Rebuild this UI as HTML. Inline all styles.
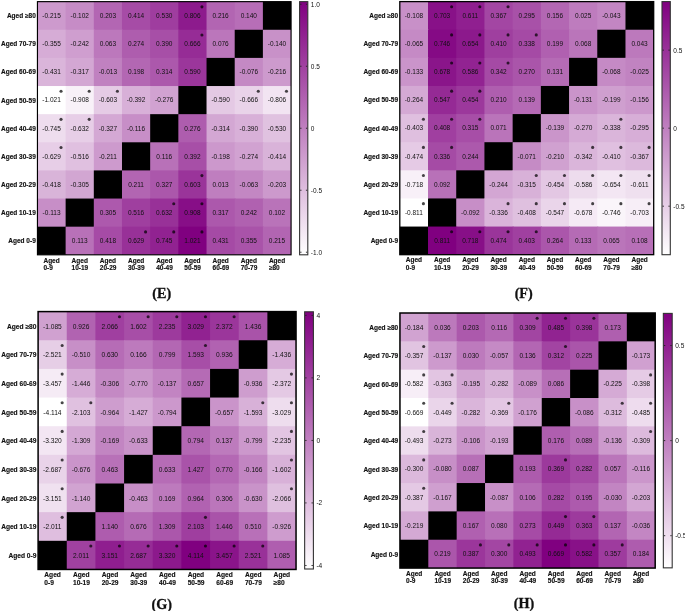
<!DOCTYPE html>
<html><head><meta charset="utf-8"><style>
html,body{margin:0;padding:0;background:#fff;}
body{width:685px;height:611px;overflow:hidden;}
svg{display:block;will-change:transform;}
text{font-family:"Liberation Sans", sans-serif;fill:#111;}
.v{text-anchor:middle;}
.rl{font-weight:bold;text-anchor:end;stroke:#111;stroke-width:0.15px;}
.cl{font-weight:bold;stroke:#111;stroke-width:0.15px;}
.tk{}
.cap{font-family:"Liberation Serif", serif;font-size:14.2px;font-weight:bold;text-anchor:middle;stroke:#111;stroke-width:0.3px;}
</style></head><body>
<svg width="685" height="611" viewBox="0 0 685 611">
<defs><linearGradient id="gE" x1="0" y1="1" x2="0" y2="0"><stop offset="0" stop-color="rgb(255,255,255)"/><stop offset="1" stop-color="rgb(128,0,128)"/></linearGradient><linearGradient id="gF" x1="0" y1="1" x2="0" y2="0"><stop offset="0" stop-color="rgb(255,255,255)"/><stop offset="1" stop-color="rgb(128,0,128)"/></linearGradient><linearGradient id="gG" x1="0" y1="1" x2="0" y2="0"><stop offset="0" stop-color="rgb(255,255,255)"/><stop offset="1" stop-color="rgb(128,0,128)"/></linearGradient><linearGradient id="gH" x1="0" y1="1" x2="0" y2="0"><stop offset="0" stop-color="rgb(255,255,255)"/><stop offset="1" stop-color="rgb(128,0,128)"/></linearGradient></defs>
<g style="font-size:6.500px">
<rect x="37.45" y="1.64" width="29.18" height="29.13" fill="rgb(205,154,205)"/>
<rect x="65.63" y="1.64" width="29.18" height="29.13" fill="rgb(198,140,198)"/>
<rect x="93.81" y="1.64" width="29.18" height="29.13" fill="rgb(179,102,179)"/>
<rect x="121.99" y="1.64" width="29.18" height="29.13" fill="rgb(166,76,166)"/>
<rect x="150.17" y="1.64" width="29.18" height="29.13" fill="rgb(159,61,159)"/>
<rect x="178.35" y="1.64" width="29.18" height="29.13" fill="rgb(141,27,141)"/>
<rect x="206.53" y="1.64" width="29.18" height="29.13" fill="rgb(178,101,178)"/>
<rect x="234.71" y="1.64" width="29.18" height="29.13" fill="rgb(183,110,183)"/>
<rect x="262.89" y="1.64" width="28.18" height="29.13" fill="#000"/>
<rect x="37.45" y="29.77" width="29.18" height="29.13" fill="rgb(214,172,214)"/>
<rect x="65.63" y="29.77" width="29.18" height="29.13" fill="rgb(207,158,207)"/>
<rect x="93.81" y="29.77" width="29.18" height="29.13" fill="rgb(188,120,188)"/>
<rect x="121.99" y="29.77" width="29.18" height="29.13" fill="rgb(174,93,174)"/>
<rect x="150.17" y="29.77" width="29.18" height="29.13" fill="rgb(167,79,167)"/>
<rect x="178.35" y="29.77" width="29.18" height="29.13" fill="rgb(150,44,150)"/>
<rect x="206.53" y="29.77" width="29.18" height="29.13" fill="rgb(187,118,187)"/>
<rect x="234.71" y="29.77" width="29.18" height="29.13" fill="#000"/>
<rect x="262.89" y="29.77" width="28.18" height="29.13" fill="rgb(200,145,200)"/>
<rect x="37.45" y="57.90" width="29.18" height="29.13" fill="rgb(218,181,218)"/>
<rect x="65.63" y="57.90" width="29.18" height="29.13" fill="rgb(211,167,211)"/>
<rect x="93.81" y="57.90" width="29.18" height="29.13" fill="rgb(192,129,192)"/>
<rect x="121.99" y="57.90" width="29.18" height="29.13" fill="rgb(179,103,179)"/>
<rect x="150.17" y="57.90" width="29.18" height="29.13" fill="rgb(172,88,172)"/>
<rect x="178.35" y="57.90" width="29.18" height="29.13" fill="rgb(155,54,155)"/>
<rect x="206.53" y="57.90" width="29.18" height="29.13" fill="#000"/>
<rect x="234.71" y="57.90" width="29.18" height="29.13" fill="rgb(196,137,196)"/>
<rect x="262.89" y="57.90" width="28.18" height="29.13" fill="rgb(205,154,205)"/>
<rect x="37.45" y="86.03" width="29.18" height="29.13" fill="rgb(255,255,255)"/>
<rect x="65.63" y="86.03" width="29.18" height="29.13" fill="rgb(248,241,248)"/>
<rect x="93.81" y="86.03" width="29.18" height="29.13" fill="rgb(229,203,229)"/>
<rect x="121.99" y="86.03" width="29.18" height="29.13" fill="rgb(216,176,216)"/>
<rect x="150.17" y="86.03" width="29.18" height="29.13" fill="rgb(209,162,209)"/>
<rect x="178.35" y="86.03" width="29.18" height="29.13" fill="#000"/>
<rect x="206.53" y="86.03" width="29.18" height="29.13" fill="rgb(228,201,228)"/>
<rect x="234.71" y="86.03" width="29.18" height="29.13" fill="rgb(233,211,233)"/>
<rect x="262.89" y="86.03" width="28.18" height="29.13" fill="rgb(242,228,242)"/>
<rect x="37.45" y="114.16" width="29.18" height="29.13" fill="rgb(238,221,238)"/>
<rect x="65.63" y="114.16" width="29.18" height="29.13" fill="rgb(231,206,231)"/>
<rect x="93.81" y="114.16" width="29.18" height="29.13" fill="rgb(212,168,212)"/>
<rect x="121.99" y="114.16" width="29.18" height="29.13" fill="rgb(199,142,199)"/>
<rect x="150.17" y="114.16" width="29.18" height="29.13" fill="#000"/>
<rect x="178.35" y="114.16" width="29.18" height="29.13" fill="rgb(174,93,174)"/>
<rect x="206.53" y="114.16" width="29.18" height="29.13" fill="rgb(211,167,211)"/>
<rect x="234.71" y="114.16" width="29.18" height="29.13" fill="rgb(216,176,216)"/>
<rect x="262.89" y="114.16" width="28.18" height="29.13" fill="rgb(224,194,224)"/>
<rect x="37.45" y="142.29" width="29.18" height="29.13" fill="rgb(231,206,231)"/>
<rect x="65.63" y="142.29" width="29.18" height="29.13" fill="rgb(224,192,224)"/>
<rect x="93.81" y="142.29" width="29.18" height="29.13" fill="rgb(205,154,205)"/>
<rect x="121.99" y="142.29" width="29.18" height="29.13" fill="#000"/>
<rect x="150.17" y="142.29" width="29.18" height="29.13" fill="rgb(184,113,184)"/>
<rect x="178.35" y="142.29" width="29.18" height="29.13" fill="rgb(167,79,167)"/>
<rect x="206.53" y="142.29" width="29.18" height="29.13" fill="rgb(204,152,204)"/>
<rect x="234.71" y="142.29" width="29.18" height="29.13" fill="rgb(209,162,209)"/>
<rect x="262.89" y="142.29" width="28.18" height="29.13" fill="rgb(217,179,217)"/>
<rect x="37.45" y="170.42" width="29.18" height="29.13" fill="rgb(217,180,217)"/>
<rect x="65.63" y="170.42" width="29.18" height="29.13" fill="rgb(210,166,210)"/>
<rect x="93.81" y="170.42" width="29.18" height="29.13" fill="#000"/>
<rect x="121.99" y="170.42" width="29.18" height="29.13" fill="rgb(178,101,178)"/>
<rect x="150.17" y="170.42" width="29.18" height="29.13" fill="rgb(171,87,171)"/>
<rect x="178.35" y="170.42" width="29.18" height="29.13" fill="rgb(154,52,154)"/>
<rect x="206.53" y="170.42" width="29.18" height="29.13" fill="rgb(191,126,191)"/>
<rect x="234.71" y="170.42" width="29.18" height="29.13" fill="rgb(195,135,195)"/>
<rect x="262.89" y="170.42" width="28.18" height="29.13" fill="rgb(204,153,204)"/>
<rect x="37.45" y="198.55" width="29.18" height="29.13" fill="rgb(199,142,199)"/>
<rect x="65.63" y="198.55" width="29.18" height="29.13" fill="#000"/>
<rect x="93.81" y="198.55" width="29.18" height="29.13" fill="rgb(173,89,173)"/>
<rect x="121.99" y="198.55" width="29.18" height="29.13" fill="rgb(159,63,159)"/>
<rect x="150.17" y="198.55" width="29.18" height="29.13" fill="rgb(152,49,152)"/>
<rect x="178.35" y="198.55" width="29.18" height="29.13" fill="rgb(135,14,135)"/>
<rect x="206.53" y="198.55" width="29.18" height="29.13" fill="rgb(172,88,172)"/>
<rect x="234.71" y="198.55" width="29.18" height="29.13" fill="rgb(176,97,176)"/>
<rect x="262.89" y="198.55" width="28.18" height="29.13" fill="rgb(185,115,185)"/>
<rect x="37.45" y="226.68" width="29.18" height="28.13" fill="#000"/>
<rect x="65.63" y="226.68" width="29.18" height="28.13" fill="rgb(184,113,184)"/>
<rect x="93.81" y="226.68" width="29.18" height="28.13" fill="rgb(166,75,166)"/>
<rect x="121.99" y="226.68" width="29.18" height="28.13" fill="rgb(152,49,152)"/>
<rect x="150.17" y="226.68" width="29.18" height="28.13" fill="rgb(145,34,145)"/>
<rect x="178.35" y="226.68" width="29.18" height="28.13" fill="rgb(128,0,128)"/>
<rect x="206.53" y="226.68" width="29.18" height="28.13" fill="rgb(165,74,165)"/>
<rect x="234.71" y="226.68" width="29.18" height="28.13" fill="rgb(169,83,169)"/>
<rect x="262.89" y="226.68" width="28.18" height="28.13" fill="rgb(178,101,178)"/>
<rect x="37.45" y="1.64" width="253.62" height="253.17" fill="none" stroke="#000" stroke-width="1.15"/>
<text x="51.54" y="18.00" class="v">-0.215</text>
<text x="79.72" y="18.00" class="v">-0.102</text>
<text x="107.90" y="18.00" class="v">0.203</text>
<text x="136.08" y="18.00" class="v">0.414</text>
<text x="164.26" y="18.00" class="v">0.530</text>
<text x="192.44" y="18.00" class="v">0.806</text>
<circle cx="201.93" cy="6.84" r="1.55" fill="#000" fill-opacity="0.72"/>
<text x="220.62" y="18.00" class="v">0.216</text>
<text x="248.80" y="18.00" class="v">0.140</text>
<text x="51.54" y="46.13" class="v">-0.355</text>
<text x="79.72" y="46.13" class="v">-0.242</text>
<text x="107.90" y="46.13" class="v">0.063</text>
<text x="136.08" y="46.13" class="v">0.274</text>
<text x="164.26" y="46.13" class="v">0.390</text>
<text x="192.44" y="46.13" class="v">0.666</text>
<circle cx="201.93" cy="34.97" r="1.55" fill="#000" fill-opacity="0.72"/>
<text x="220.62" y="46.13" class="v">0.076</text>
<text x="276.98" y="46.13" class="v">-0.140</text>
<text x="51.54" y="74.27" class="v">-0.431</text>
<text x="79.72" y="74.27" class="v">-0.317</text>
<text x="107.90" y="74.27" class="v">-0.013</text>
<text x="136.08" y="74.27" class="v">0.198</text>
<text x="164.26" y="74.27" class="v">0.314</text>
<text x="192.44" y="74.27" class="v">0.590</text>
<text x="248.80" y="74.27" class="v">-0.076</text>
<text x="276.98" y="74.27" class="v">-0.216</text>
<text x="51.54" y="102.39" class="v">-1.021</text>
<circle cx="61.03" cy="91.23" r="1.55" fill="#000" fill-opacity="0.72"/>
<text x="79.72" y="102.39" class="v">-0.908</text>
<circle cx="89.21" cy="91.23" r="1.55" fill="#000" fill-opacity="0.72"/>
<text x="107.90" y="102.39" class="v">-0.603</text>
<circle cx="117.39" cy="91.23" r="1.55" fill="#000" fill-opacity="0.72"/>
<text x="136.08" y="102.39" class="v">-0.392</text>
<text x="164.26" y="102.39" class="v">-0.276</text>
<text x="220.62" y="102.39" class="v">-0.590</text>
<text x="248.80" y="102.39" class="v">-0.666</text>
<circle cx="258.29" cy="91.23" r="1.55" fill="#000" fill-opacity="0.72"/>
<text x="276.98" y="102.39" class="v">-0.806</text>
<circle cx="286.47" cy="91.23" r="1.55" fill="#000" fill-opacity="0.72"/>
<text x="51.54" y="130.53" class="v">-0.745</text>
<circle cx="61.03" cy="119.36" r="1.55" fill="#000" fill-opacity="0.72"/>
<text x="79.72" y="130.53" class="v">-0.632</text>
<circle cx="89.21" cy="119.36" r="1.55" fill="#000" fill-opacity="0.72"/>
<text x="107.90" y="130.53" class="v">-0.327</text>
<text x="136.08" y="130.53" class="v">-0.116</text>
<text x="192.44" y="130.53" class="v">0.276</text>
<text x="220.62" y="130.53" class="v">-0.314</text>
<text x="248.80" y="130.53" class="v">-0.390</text>
<text x="276.98" y="130.53" class="v">-0.530</text>
<text x="51.54" y="158.66" class="v">-0.629</text>
<circle cx="61.03" cy="147.49" r="1.55" fill="#000" fill-opacity="0.72"/>
<text x="79.72" y="158.66" class="v">-0.516</text>
<text x="107.90" y="158.66" class="v">-0.211</text>
<text x="164.26" y="158.66" class="v">0.116</text>
<text x="192.44" y="158.66" class="v">0.392</text>
<text x="220.62" y="158.66" class="v">-0.198</text>
<text x="248.80" y="158.66" class="v">-0.274</text>
<text x="276.98" y="158.66" class="v">-0.414</text>
<text x="51.54" y="186.78" class="v">-0.418</text>
<text x="79.72" y="186.78" class="v">-0.305</text>
<text x="136.08" y="186.78" class="v">0.211</text>
<text x="164.26" y="186.78" class="v">0.327</text>
<text x="192.44" y="186.78" class="v">0.603</text>
<circle cx="201.93" cy="175.62" r="1.55" fill="#000" fill-opacity="0.72"/>
<text x="220.62" y="186.78" class="v">0.013</text>
<text x="248.80" y="186.78" class="v">-0.063</text>
<text x="276.98" y="186.78" class="v">-0.203</text>
<text x="51.54" y="214.91" class="v">-0.113</text>
<text x="107.90" y="214.91" class="v">0.305</text>
<text x="136.08" y="214.91" class="v">0.516</text>
<text x="164.26" y="214.91" class="v">0.632</text>
<circle cx="173.75" cy="203.75" r="1.55" fill="#000" fill-opacity="0.72"/>
<text x="192.44" y="214.91" class="v">0.908</text>
<circle cx="201.93" cy="203.75" r="1.55" fill="#000" fill-opacity="0.72"/>
<text x="220.62" y="214.91" class="v">0.317</text>
<text x="248.80" y="214.91" class="v">0.242</text>
<text x="276.98" y="214.91" class="v">0.102</text>
<text x="79.72" y="243.04" class="v">0.113</text>
<text x="107.90" y="243.04" class="v">0.418</text>
<text x="136.08" y="243.04" class="v">0.629</text>
<circle cx="145.57" cy="231.88" r="1.55" fill="#000" fill-opacity="0.72"/>
<text x="164.26" y="243.04" class="v">0.745</text>
<circle cx="173.75" cy="231.88" r="1.55" fill="#000" fill-opacity="0.72"/>
<text x="192.44" y="243.04" class="v">1.021</text>
<circle cx="201.93" cy="231.88" r="1.55" fill="#000" fill-opacity="0.72"/>
<text x="220.62" y="243.04" class="v">0.431</text>
<text x="248.80" y="243.04" class="v">0.355</text>
<text x="276.98" y="243.04" class="v">0.215</text>
<text x="35.75" y="18.11" class="rl">Aged ≥80</text>
<text x="35.75" y="46.23" class="rl">Aged 70-79</text>
<text x="35.75" y="74.37" class="rl">Aged 60-69</text>
<text x="35.75" y="102.50" class="rl">Aged 50-59</text>
<text x="35.75" y="130.62" class="rl">Aged 40-49</text>
<text x="35.75" y="158.75" class="rl">Aged 30-39</text>
<text x="35.75" y="186.88" class="rl">Aged 20-29</text>
<text x="35.75" y="215.01" class="rl">Aged 10-19</text>
<text x="35.75" y="243.14" class="rl">Aged 0-9</text>
<text x="43.44" y="262.51" class="cl">Aged</text>
<text x="43.44" y="270.11" class="cl">0-9</text>
<text x="71.62" y="262.51" class="cl">Aged</text>
<text x="71.62" y="270.11" class="cl">10-19</text>
<text x="99.80" y="262.51" class="cl">Aged</text>
<text x="99.80" y="270.11" class="cl">20-29</text>
<text x="127.98" y="262.51" class="cl">Aged</text>
<text x="127.98" y="270.11" class="cl">30-39</text>
<text x="156.16" y="262.51" class="cl">Aged</text>
<text x="156.16" y="270.11" class="cl">40-49</text>
<text x="184.34" y="262.51" class="cl">Aged</text>
<text x="184.34" y="270.11" class="cl">50-59</text>
<text x="212.52" y="262.51" class="cl">Aged</text>
<text x="212.52" y="270.11" class="cl">60-69</text>
<text x="240.70" y="262.51" class="cl">Aged</text>
<text x="240.70" y="270.11" class="cl">70-79</text>
<text x="268.88" y="262.51" class="cl">Aged</text>
<text x="268.88" y="270.11" class="cl">≥80</text>
<rect x="299.60" y="1.64" width="8.20" height="253.16" fill="url(#gE)" stroke="#333" stroke-width="1.1"/>
<rect x="300.10" y="3.79" width="1.4" height="0.9" fill="#222"/>
<rect x="305.90" y="3.79" width="1.4" height="0.9" fill="#222"/>
<text x="310.80" y="6.54" class="tk">1.0</text>
<rect x="300.10" y="65.78" width="1.4" height="0.9" fill="#222"/>
<rect x="305.90" y="65.78" width="1.4" height="0.9" fill="#222"/>
<text x="310.80" y="68.53" class="tk">0.5</text>
<rect x="300.10" y="127.77" width="1.4" height="0.9" fill="#222"/>
<rect x="305.90" y="127.77" width="1.4" height="0.9" fill="#222"/>
<text x="310.80" y="130.52" class="tk">0</text>
<rect x="300.10" y="189.76" width="1.4" height="0.9" fill="#222"/>
<rect x="305.90" y="189.76" width="1.4" height="0.9" fill="#222"/>
<text x="310.80" y="192.51" class="tk">-0.5</text>
<rect x="300.10" y="251.75" width="1.4" height="0.9" fill="#222"/>
<rect x="305.90" y="251.75" width="1.4" height="0.9" fill="#222"/>
<text x="310.80" y="254.50" class="tk">-1.0</text>
</g>
<text x="161.70" y="297.90" class="cap">(E)</text>
<g style="font-size:6.507px">
<rect x="399.80" y="1.60" width="29.21" height="29.12" fill="rgb(200,144,200)"/>
<rect x="428.01" y="1.60" width="29.21" height="29.12" fill="rgb(136,17,136)"/>
<rect x="456.22" y="1.60" width="29.21" height="29.12" fill="rgb(144,31,144)"/>
<rect x="484.43" y="1.60" width="29.21" height="29.12" fill="rgb(163,70,163)"/>
<rect x="512.64" y="1.60" width="29.21" height="29.12" fill="rgb(168,81,168)"/>
<rect x="540.85" y="1.60" width="29.21" height="29.12" fill="rgb(179,103,179)"/>
<rect x="569.06" y="1.60" width="29.21" height="29.12" fill="rgb(190,124,190)"/>
<rect x="597.27" y="1.60" width="29.21" height="29.12" fill="rgb(195,134,195)"/>
<rect x="625.48" y="1.60" width="28.21" height="29.12" fill="#000"/>
<rect x="399.80" y="29.72" width="29.21" height="29.12" fill="rgb(197,138,197)"/>
<rect x="428.01" y="29.72" width="29.21" height="29.12" fill="rgb(133,10,133)"/>
<rect x="456.22" y="29.72" width="29.21" height="29.12" fill="rgb(140,25,140)"/>
<rect x="484.43" y="29.72" width="29.21" height="29.12" fill="rgb(159,63,159)"/>
<rect x="512.64" y="29.72" width="29.21" height="29.12" fill="rgb(165,74,165)"/>
<rect x="540.85" y="29.72" width="29.21" height="29.12" fill="rgb(176,96,176)"/>
<rect x="569.06" y="29.72" width="29.21" height="29.12" fill="rgb(186,117,186)"/>
<rect x="597.27" y="29.72" width="29.21" height="29.12" fill="#000"/>
<rect x="625.48" y="29.72" width="28.21" height="29.12" fill="rgb(188,121,188)"/>
<rect x="399.80" y="57.84" width="29.21" height="29.12" fill="rgb(202,148,202)"/>
<rect x="428.01" y="57.84" width="29.21" height="29.12" fill="rgb(138,21,138)"/>
<rect x="456.22" y="57.84" width="29.21" height="29.12" fill="rgb(146,35,146)"/>
<rect x="484.43" y="57.84" width="29.21" height="29.12" fill="rgb(165,74,165)"/>
<rect x="512.64" y="57.84" width="29.21" height="29.12" fill="rgb(170,85,170)"/>
<rect x="540.85" y="57.84" width="29.21" height="29.12" fill="rgb(181,107,181)"/>
<rect x="569.06" y="57.84" width="29.21" height="29.12" fill="#000"/>
<rect x="597.27" y="57.84" width="29.21" height="29.12" fill="rgb(197,138,197)"/>
<rect x="625.48" y="57.84" width="28.21" height="29.12" fill="rgb(193,131,193)"/>
<rect x="399.80" y="85.96" width="29.21" height="29.12" fill="rgb(212,169,212)"/>
<rect x="428.01" y="85.96" width="29.21" height="29.12" fill="rgb(149,42,149)"/>
<rect x="456.22" y="85.96" width="29.21" height="29.12" fill="rgb(156,56,156)"/>
<rect x="484.43" y="85.96" width="29.21" height="29.12" fill="rgb(175,94,175)"/>
<rect x="512.64" y="85.96" width="29.21" height="29.12" fill="rgb(181,106,181)"/>
<rect x="540.85" y="85.96" width="29.21" height="29.12" fill="#000"/>
<rect x="569.06" y="85.96" width="29.21" height="29.12" fill="rgb(202,148,202)"/>
<rect x="597.27" y="85.96" width="29.21" height="29.12" fill="rgb(207,159,207)"/>
<rect x="625.48" y="85.96" width="28.21" height="29.12" fill="rgb(204,152,204)"/>
<rect x="399.80" y="114.08" width="29.21" height="29.12" fill="rgb(223,191,223)"/>
<rect x="428.01" y="114.08" width="29.21" height="29.12" fill="rgb(160,63,160)"/>
<rect x="456.22" y="114.08" width="29.21" height="29.12" fill="rgb(167,78,167)"/>
<rect x="484.43" y="114.08" width="29.21" height="29.12" fill="rgb(186,116,186)"/>
<rect x="512.64" y="114.08" width="29.21" height="29.12" fill="#000"/>
<rect x="540.85" y="114.08" width="29.21" height="29.12" fill="rgb(202,149,202)"/>
<rect x="569.06" y="114.08" width="29.21" height="29.12" fill="rgb(213,170,213)"/>
<rect x="597.27" y="114.08" width="29.21" height="29.12" fill="rgb(218,181,218)"/>
<rect x="625.48" y="114.08" width="28.21" height="29.12" fill="rgb(215,174,215)"/>
<rect x="399.80" y="142.20" width="29.21" height="29.12" fill="rgb(229,202,229)"/>
<rect x="428.01" y="142.20" width="29.21" height="29.12" fill="rgb(165,75,165)"/>
<rect x="456.22" y="142.20" width="29.21" height="29.12" fill="rgb(172,89,172)"/>
<rect x="484.43" y="142.20" width="29.21" height="29.12" fill="#000"/>
<rect x="512.64" y="142.20" width="29.21" height="29.12" fill="rgb(197,139,197)"/>
<rect x="540.85" y="142.20" width="29.21" height="29.12" fill="rgb(208,161,208)"/>
<rect x="569.06" y="142.20" width="29.21" height="29.12" fill="rgb(218,181,218)"/>
<rect x="597.27" y="142.20" width="29.21" height="29.12" fill="rgb(224,192,224)"/>
<rect x="625.48" y="142.20" width="28.21" height="29.12" fill="rgb(220,185,220)"/>
<rect x="399.80" y="170.32" width="29.21" height="29.12" fill="rgb(248,240,248)"/>
<rect x="428.01" y="170.32" width="29.21" height="29.12" fill="rgb(184,113,184)"/>
<rect x="456.22" y="170.32" width="29.21" height="29.12" fill="#000"/>
<rect x="484.43" y="170.32" width="29.21" height="29.12" fill="rgb(211,166,211)"/>
<rect x="512.64" y="170.32" width="29.21" height="29.12" fill="rgb(216,177,216)"/>
<rect x="540.85" y="170.32" width="29.21" height="29.12" fill="rgb(227,199,227)"/>
<rect x="569.06" y="170.32" width="29.21" height="29.12" fill="rgb(237,220,237)"/>
<rect x="597.27" y="170.32" width="29.21" height="29.12" fill="rgb(243,230,243)"/>
<rect x="625.48" y="170.32" width="28.21" height="29.12" fill="rgb(239,224,239)"/>
<rect x="399.80" y="198.44" width="29.21" height="29.12" fill="rgb(255,255,255)"/>
<rect x="428.01" y="198.44" width="29.21" height="29.12" fill="#000"/>
<rect x="456.22" y="198.44" width="29.21" height="29.12" fill="rgb(199,142,199)"/>
<rect x="484.43" y="198.44" width="29.21" height="29.12" fill="rgb(218,180,218)"/>
<rect x="512.64" y="198.44" width="29.21" height="29.12" fill="rgb(223,192,223)"/>
<rect x="540.85" y="198.44" width="29.21" height="29.12" fill="rgb(234,213,234)"/>
<rect x="569.06" y="198.44" width="29.21" height="29.12" fill="rgb(245,234,245)"/>
<rect x="597.27" y="198.44" width="29.21" height="29.12" fill="rgb(250,245,250)"/>
<rect x="625.48" y="198.44" width="28.21" height="29.12" fill="rgb(247,238,247)"/>
<rect x="399.80" y="226.56" width="29.21" height="28.12" fill="#000"/>
<rect x="428.01" y="226.56" width="29.21" height="28.12" fill="rgb(128,0,128)"/>
<rect x="456.22" y="226.56" width="29.21" height="28.12" fill="rgb(135,15,135)"/>
<rect x="484.43" y="226.56" width="29.21" height="28.12" fill="rgb(154,53,154)"/>
<rect x="512.64" y="226.56" width="29.21" height="28.12" fill="rgb(160,64,160)"/>
<rect x="540.85" y="226.56" width="29.21" height="28.12" fill="rgb(171,86,171)"/>
<rect x="569.06" y="226.56" width="29.21" height="28.12" fill="rgb(181,107,181)"/>
<rect x="597.27" y="226.56" width="29.21" height="28.12" fill="rgb(186,117,186)"/>
<rect x="625.48" y="226.56" width="28.21" height="28.12" fill="rgb(183,111,183)"/>
<rect x="399.80" y="1.60" width="253.89" height="253.08" fill="none" stroke="#000" stroke-width="1.30"/>
<text x="413.91" y="17.96" class="v">-0.108</text>
<text x="442.12" y="17.96" class="v">0.703</text>
<circle cx="451.62" cy="6.80" r="1.55" fill="#000" fill-opacity="0.72"/>
<text x="470.33" y="17.96" class="v">0.611</text>
<circle cx="479.83" cy="6.80" r="1.55" fill="#000" fill-opacity="0.72"/>
<text x="498.54" y="17.96" class="v">0.367</text>
<circle cx="508.04" cy="6.80" r="1.55" fill="#000" fill-opacity="0.72"/>
<text x="526.75" y="17.96" class="v">0.295</text>
<text x="554.96" y="17.96" class="v">0.156</text>
<text x="583.16" y="17.96" class="v">0.025</text>
<text x="611.38" y="17.96" class="v">-0.043</text>
<text x="413.91" y="46.08" class="v">-0.065</text>
<text x="442.12" y="46.08" class="v">0.746</text>
<circle cx="451.62" cy="34.92" r="1.55" fill="#000" fill-opacity="0.72"/>
<text x="470.33" y="46.08" class="v">0.654</text>
<circle cx="479.83" cy="34.92" r="1.55" fill="#000" fill-opacity="0.72"/>
<text x="498.54" y="46.08" class="v">0.410</text>
<circle cx="508.04" cy="34.92" r="1.55" fill="#000" fill-opacity="0.72"/>
<text x="526.75" y="46.08" class="v">0.338</text>
<circle cx="536.25" cy="34.92" r="1.55" fill="#000" fill-opacity="0.72"/>
<text x="554.96" y="46.08" class="v">0.199</text>
<text x="583.16" y="46.08" class="v">0.068</text>
<text x="639.59" y="46.08" class="v">0.043</text>
<text x="413.91" y="74.20" class="v">-0.133</text>
<text x="442.12" y="74.20" class="v">0.678</text>
<circle cx="451.62" cy="63.04" r="1.55" fill="#000" fill-opacity="0.72"/>
<text x="470.33" y="74.20" class="v">0.586</text>
<circle cx="479.83" cy="63.04" r="1.55" fill="#000" fill-opacity="0.72"/>
<text x="498.54" y="74.20" class="v">0.342</text>
<circle cx="508.04" cy="63.04" r="1.55" fill="#000" fill-opacity="0.72"/>
<text x="526.75" y="74.20" class="v">0.270</text>
<text x="554.96" y="74.20" class="v">0.131</text>
<text x="611.38" y="74.20" class="v">-0.068</text>
<text x="639.59" y="74.20" class="v">-0.025</text>
<text x="413.91" y="102.32" class="v">-0.264</text>
<text x="442.12" y="102.32" class="v">0.547</text>
<circle cx="451.62" cy="91.16" r="1.55" fill="#000" fill-opacity="0.72"/>
<text x="470.33" y="102.32" class="v">0.454</text>
<circle cx="479.83" cy="91.16" r="1.55" fill="#000" fill-opacity="0.72"/>
<text x="498.54" y="102.32" class="v">0.210</text>
<text x="526.75" y="102.32" class="v">0.139</text>
<text x="583.16" y="102.32" class="v">-0.131</text>
<text x="611.38" y="102.32" class="v">-0.199</text>
<text x="639.59" y="102.32" class="v">-0.156</text>
<text x="413.91" y="130.44" class="v">-0.403</text>
<circle cx="423.41" cy="119.28" r="1.55" fill="#000" fill-opacity="0.72"/>
<text x="442.12" y="130.44" class="v">0.408</text>
<circle cx="451.62" cy="119.28" r="1.55" fill="#000" fill-opacity="0.72"/>
<text x="470.33" y="130.44" class="v">0.315</text>
<circle cx="479.83" cy="119.28" r="1.55" fill="#000" fill-opacity="0.72"/>
<text x="498.54" y="130.44" class="v">0.071</text>
<text x="554.96" y="130.44" class="v">-0.139</text>
<text x="583.16" y="130.44" class="v">-0.270</text>
<text x="611.38" y="130.44" class="v">-0.338</text>
<circle cx="620.88" cy="119.28" r="1.55" fill="#000" fill-opacity="0.72"/>
<text x="639.59" y="130.44" class="v">-0.295</text>
<text x="413.91" y="158.56" class="v">-0.474</text>
<circle cx="423.41" cy="147.40" r="1.55" fill="#000" fill-opacity="0.72"/>
<text x="442.12" y="158.56" class="v">0.336</text>
<circle cx="451.62" cy="147.40" r="1.55" fill="#000" fill-opacity="0.72"/>
<text x="470.33" y="158.56" class="v">0.244</text>
<text x="526.75" y="158.56" class="v">-0.071</text>
<text x="554.96" y="158.56" class="v">-0.210</text>
<text x="583.16" y="158.56" class="v">-0.342</text>
<circle cx="592.67" cy="147.40" r="1.55" fill="#000" fill-opacity="0.72"/>
<text x="611.38" y="158.56" class="v">-0.410</text>
<circle cx="620.88" cy="147.40" r="1.55" fill="#000" fill-opacity="0.72"/>
<text x="639.59" y="158.56" class="v">-0.367</text>
<circle cx="649.09" cy="147.40" r="1.55" fill="#000" fill-opacity="0.72"/>
<text x="413.91" y="186.68" class="v">-0.718</text>
<circle cx="423.41" cy="175.52" r="1.55" fill="#000" fill-opacity="0.72"/>
<text x="442.12" y="186.68" class="v">0.092</text>
<text x="498.54" y="186.68" class="v">-0.244</text>
<text x="526.75" y="186.68" class="v">-0.315</text>
<circle cx="536.25" cy="175.52" r="1.55" fill="#000" fill-opacity="0.72"/>
<text x="554.96" y="186.68" class="v">-0.454</text>
<circle cx="564.46" cy="175.52" r="1.55" fill="#000" fill-opacity="0.72"/>
<text x="583.16" y="186.68" class="v">-0.586</text>
<circle cx="592.67" cy="175.52" r="1.55" fill="#000" fill-opacity="0.72"/>
<text x="611.38" y="186.68" class="v">-0.654</text>
<circle cx="620.88" cy="175.52" r="1.55" fill="#000" fill-opacity="0.72"/>
<text x="639.59" y="186.68" class="v">-0.611</text>
<circle cx="649.09" cy="175.52" r="1.55" fill="#000" fill-opacity="0.72"/>
<text x="413.91" y="214.80" class="v">-0.811</text>
<circle cx="423.41" cy="203.64" r="1.55" fill="#000" fill-opacity="0.72"/>
<text x="470.33" y="214.80" class="v">-0.092</text>
<text x="498.54" y="214.80" class="v">-0.336</text>
<circle cx="508.04" cy="203.64" r="1.55" fill="#000" fill-opacity="0.72"/>
<text x="526.75" y="214.80" class="v">-0.408</text>
<circle cx="536.25" cy="203.64" r="1.55" fill="#000" fill-opacity="0.72"/>
<text x="554.96" y="214.80" class="v">-0.547</text>
<circle cx="564.46" cy="203.64" r="1.55" fill="#000" fill-opacity="0.72"/>
<text x="583.16" y="214.80" class="v">-0.678</text>
<circle cx="592.67" cy="203.64" r="1.55" fill="#000" fill-opacity="0.72"/>
<text x="611.38" y="214.80" class="v">-0.746</text>
<circle cx="620.88" cy="203.64" r="1.55" fill="#000" fill-opacity="0.72"/>
<text x="639.59" y="214.80" class="v">-0.703</text>
<circle cx="649.09" cy="203.64" r="1.55" fill="#000" fill-opacity="0.72"/>
<text x="442.12" y="242.92" class="v">0.811</text>
<circle cx="451.62" cy="231.76" r="1.55" fill="#000" fill-opacity="0.72"/>
<text x="470.33" y="242.92" class="v">0.718</text>
<circle cx="479.83" cy="231.76" r="1.55" fill="#000" fill-opacity="0.72"/>
<text x="498.54" y="242.92" class="v">0.474</text>
<circle cx="508.04" cy="231.76" r="1.55" fill="#000" fill-opacity="0.72"/>
<text x="526.75" y="242.92" class="v">0.403</text>
<circle cx="536.25" cy="231.76" r="1.55" fill="#000" fill-opacity="0.72"/>
<text x="554.96" y="242.92" class="v">0.264</text>
<text x="583.16" y="242.92" class="v">0.133</text>
<text x="611.38" y="242.92" class="v">0.065</text>
<text x="639.59" y="242.92" class="v">0.108</text>
<text x="398.10" y="18.06" class="rl">Aged ≥80</text>
<text x="398.10" y="46.18" class="rl">Aged 70-79</text>
<text x="398.10" y="74.30" class="rl">Aged 60-69</text>
<text x="398.10" y="102.42" class="rl">Aged 50-59</text>
<text x="398.10" y="130.54" class="rl">Aged 40-49</text>
<text x="398.10" y="158.66" class="rl">Aged 30-39</text>
<text x="398.10" y="186.78" class="rl">Aged 20-29</text>
<text x="398.10" y="214.90" class="rl">Aged 10-19</text>
<text x="398.10" y="243.02" class="rl">Aged 0-9</text>
<text x="405.81" y="262.38" class="cl">Aged</text>
<text x="405.81" y="269.98" class="cl">0-9</text>
<text x="434.01" y="262.38" class="cl">Aged</text>
<text x="434.01" y="269.98" class="cl">10-19</text>
<text x="462.23" y="262.38" class="cl">Aged</text>
<text x="462.23" y="269.98" class="cl">20-29</text>
<text x="490.44" y="262.38" class="cl">Aged</text>
<text x="490.44" y="269.98" class="cl">30-39</text>
<text x="518.64" y="262.38" class="cl">Aged</text>
<text x="518.64" y="269.98" class="cl">40-49</text>
<text x="546.86" y="262.38" class="cl">Aged</text>
<text x="546.86" y="269.98" class="cl">50-59</text>
<text x="575.06" y="262.38" class="cl">Aged</text>
<text x="575.06" y="269.98" class="cl">60-69</text>
<text x="603.27" y="262.38" class="cl">Aged</text>
<text x="603.27" y="269.98" class="cl">70-79</text>
<text x="631.49" y="262.38" class="cl">Aged</text>
<text x="631.49" y="269.98" class="cl">≥80</text>
<rect x="662.00" y="1.60" width="8.30" height="253.10" fill="url(#gF)" stroke="#333" stroke-width="1.1"/>
<rect x="662.50" y="49.68" width="1.4" height="0.9" fill="#222"/>
<rect x="668.40" y="49.68" width="1.4" height="0.9" fill="#222"/>
<text x="673.30" y="52.93" class="tk">0.5</text>
<rect x="662.50" y="127.70" width="1.4" height="0.9" fill="#222"/>
<rect x="668.40" y="127.70" width="1.4" height="0.9" fill="#222"/>
<text x="673.30" y="130.95" class="tk">0</text>
<rect x="662.50" y="205.72" width="1.4" height="0.9" fill="#222"/>
<rect x="668.40" y="205.72" width="1.4" height="0.9" fill="#222"/>
<text x="673.30" y="208.97" class="tk">-0.5</text>
</g>
<text x="523.70" y="297.80" class="cap">(F)</text>
<g style="font-size:6.611px">
<rect x="38.10" y="311.60" width="29.66" height="29.65" fill="rgb(208,161,208)"/>
<rect x="66.76" y="311.60" width="29.66" height="29.65" fill="rgb(177,99,177)"/>
<rect x="95.42" y="311.60" width="29.66" height="29.65" fill="rgb(160,63,160)"/>
<rect x="124.08" y="311.60" width="29.66" height="29.65" fill="rgb(167,78,167)"/>
<rect x="152.74" y="311.60" width="29.66" height="29.65" fill="rgb(157,58,157)"/>
<rect x="181.40" y="311.60" width="29.66" height="29.65" fill="rgb(145,34,145)"/>
<rect x="210.06" y="311.60" width="29.66" height="29.65" fill="rgb(155,54,155)"/>
<rect x="238.72" y="311.60" width="29.66" height="29.65" fill="rgb(169,83,169)"/>
<rect x="267.38" y="311.60" width="28.66" height="29.65" fill="#000"/>
<rect x="38.10" y="340.25" width="29.66" height="29.65" fill="rgb(230,206,230)"/>
<rect x="66.76" y="340.25" width="29.66" height="29.65" fill="rgb(199,143,199)"/>
<rect x="95.42" y="340.25" width="29.66" height="29.65" fill="rgb(182,108,182)"/>
<rect x="124.08" y="340.25" width="29.66" height="29.65" fill="rgb(189,122,189)"/>
<rect x="152.74" y="340.25" width="29.66" height="29.65" fill="rgb(179,103,179)"/>
<rect x="181.40" y="340.25" width="29.66" height="29.65" fill="rgb(167,78,167)"/>
<rect x="210.06" y="340.25" width="29.66" height="29.65" fill="rgb(177,98,177)"/>
<rect x="238.72" y="340.25" width="29.66" height="29.65" fill="#000"/>
<rect x="267.38" y="340.25" width="28.66" height="29.65" fill="rgb(214,172,214)"/>
<rect x="38.10" y="368.90" width="29.66" height="29.65" fill="rgb(245,235,245)"/>
<rect x="66.76" y="368.90" width="29.66" height="29.65" fill="rgb(214,172,214)"/>
<rect x="95.42" y="368.90" width="29.66" height="29.65" fill="rgb(196,137,196)"/>
<rect x="124.08" y="368.90" width="29.66" height="29.65" fill="rgb(203,151,203)"/>
<rect x="152.74" y="368.90" width="29.66" height="29.65" fill="rgb(194,132,194)"/>
<rect x="181.40" y="368.90" width="29.66" height="29.65" fill="rgb(181,107,181)"/>
<rect x="210.06" y="368.90" width="29.66" height="29.65" fill="#000"/>
<rect x="238.72" y="368.90" width="29.66" height="29.65" fill="rgb(206,157,206)"/>
<rect x="267.38" y="368.90" width="28.66" height="29.65" fill="rgb(228,201,228)"/>
<rect x="38.10" y="397.55" width="29.66" height="29.65" fill="rgb(255,255,255)"/>
<rect x="66.76" y="397.55" width="29.66" height="29.65" fill="rgb(224,193,224)"/>
<rect x="95.42" y="397.55" width="29.66" height="29.65" fill="rgb(206,157,206)"/>
<rect x="124.08" y="397.55" width="29.66" height="29.65" fill="rgb(214,172,214)"/>
<rect x="152.74" y="397.55" width="29.66" height="29.65" fill="rgb(204,152,204)"/>
<rect x="181.40" y="397.55" width="29.66" height="29.65" fill="#000"/>
<rect x="210.06" y="397.55" width="29.66" height="29.65" fill="rgb(202,148,202)"/>
<rect x="238.72" y="397.55" width="29.66" height="29.65" fill="rgb(216,177,216)"/>
<rect x="267.38" y="397.55" width="28.66" height="29.65" fill="rgb(238,221,238)"/>
<rect x="38.10" y="426.20" width="29.66" height="29.65" fill="rgb(243,230,243)"/>
<rect x="66.76" y="426.20" width="29.66" height="29.65" fill="rgb(212,168,212)"/>
<rect x="95.42" y="426.20" width="29.66" height="29.65" fill="rgb(194,133,194)"/>
<rect x="124.08" y="426.20" width="29.66" height="29.65" fill="rgb(201,147,201)"/>
<rect x="152.74" y="426.20" width="29.66" height="29.65" fill="#000"/>
<rect x="181.40" y="426.20" width="29.66" height="29.65" fill="rgb(179,103,179)"/>
<rect x="210.06" y="426.20" width="29.66" height="29.65" fill="rgb(189,123,189)"/>
<rect x="238.72" y="426.20" width="29.66" height="29.65" fill="rgb(204,152,204)"/>
<rect x="267.38" y="426.20" width="28.66" height="29.65" fill="rgb(226,197,226)"/>
<rect x="38.10" y="454.85" width="29.66" height="29.65" fill="rgb(233,211,233)"/>
<rect x="66.76" y="454.85" width="29.66" height="29.65" fill="rgb(202,148,202)"/>
<rect x="95.42" y="454.85" width="29.66" height="29.65" fill="rgb(184,113,184)"/>
<rect x="124.08" y="454.85" width="29.66" height="29.65" fill="#000"/>
<rect x="152.74" y="454.85" width="29.66" height="29.65" fill="rgb(182,108,182)"/>
<rect x="181.40" y="454.85" width="29.66" height="29.65" fill="rgb(169,83,169)"/>
<rect x="210.06" y="454.85" width="29.66" height="29.65" fill="rgb(180,104,180)"/>
<rect x="238.72" y="454.85" width="29.66" height="29.65" fill="rgb(194,133,194)"/>
<rect x="267.38" y="454.85" width="28.66" height="29.65" fill="rgb(216,177,216)"/>
<rect x="38.10" y="483.50" width="29.66" height="29.65" fill="rgb(240,225,240)"/>
<rect x="66.76" y="483.50" width="29.66" height="29.65" fill="rgb(209,163,209)"/>
<rect x="95.42" y="483.50" width="29.66" height="29.65" fill="#000"/>
<rect x="124.08" y="483.50" width="29.66" height="29.65" fill="rgb(199,142,199)"/>
<rect x="152.74" y="483.50" width="29.66" height="29.65" fill="rgb(189,122,189)"/>
<rect x="181.40" y="483.50" width="29.66" height="29.65" fill="rgb(177,98,177)"/>
<rect x="210.06" y="483.50" width="29.66" height="29.65" fill="rgb(187,118,187)"/>
<rect x="238.72" y="483.50" width="29.66" height="29.65" fill="rgb(201,147,201)"/>
<rect x="267.38" y="483.50" width="28.66" height="29.65" fill="rgb(223,192,223)"/>
<rect x="38.10" y="512.15" width="29.66" height="29.65" fill="rgb(223,190,223)"/>
<rect x="66.76" y="512.15" width="29.66" height="29.65" fill="#000"/>
<rect x="95.42" y="512.15" width="29.66" height="29.65" fill="rgb(174,92,174)"/>
<rect x="124.08" y="512.15" width="29.66" height="29.65" fill="rgb(181,107,181)"/>
<rect x="152.74" y="512.15" width="29.66" height="29.65" fill="rgb(171,87,171)"/>
<rect x="181.40" y="512.15" width="29.66" height="29.65" fill="rgb(159,62,159)"/>
<rect x="210.06" y="512.15" width="29.66" height="29.65" fill="rgb(169,83,169)"/>
<rect x="238.72" y="512.15" width="29.66" height="29.65" fill="rgb(184,112,184)"/>
<rect x="267.38" y="512.15" width="28.66" height="29.65" fill="rgb(206,156,206)"/>
<rect x="38.10" y="540.80" width="29.66" height="28.65" fill="#000"/>
<rect x="66.76" y="540.80" width="29.66" height="28.65" fill="rgb(160,65,160)"/>
<rect x="95.42" y="540.80" width="29.66" height="28.65" fill="rgb(143,30,143)"/>
<rect x="124.08" y="540.80" width="29.66" height="28.65" fill="rgb(150,44,150)"/>
<rect x="152.74" y="540.80" width="29.66" height="28.65" fill="rgb(140,25,140)"/>
<rect x="181.40" y="540.80" width="29.66" height="28.65" fill="rgb(128,0,128)"/>
<rect x="210.06" y="540.80" width="29.66" height="28.65" fill="rgb(138,20,138)"/>
<rect x="238.72" y="540.80" width="29.66" height="28.65" fill="rgb(153,49,153)"/>
<rect x="267.38" y="540.80" width="28.66" height="28.65" fill="rgb(175,94,175)"/>
<rect x="38.10" y="311.60" width="257.94" height="257.85" fill="none" stroke="#000" stroke-width="1.50"/>
<text x="52.43" y="328.73" class="v">-1.085</text>
<text x="81.09" y="328.73" class="v">0.926</text>
<text x="109.75" y="328.73" class="v">2.066</text>
<circle cx="119.48" cy="316.80" r="1.55" fill="#000" fill-opacity="0.72"/>
<text x="138.41" y="328.73" class="v">1.602</text>
<circle cx="148.14" cy="316.80" r="1.55" fill="#000" fill-opacity="0.72"/>
<text x="167.07" y="328.73" class="v">2.235</text>
<circle cx="176.80" cy="316.80" r="1.55" fill="#000" fill-opacity="0.72"/>
<text x="195.73" y="328.73" class="v">3.029</text>
<circle cx="205.46" cy="316.80" r="1.55" fill="#000" fill-opacity="0.72"/>
<text x="224.39" y="328.73" class="v">2.372</text>
<circle cx="234.12" cy="316.80" r="1.55" fill="#000" fill-opacity="0.72"/>
<text x="253.05" y="328.73" class="v">1.436</text>
<text x="52.43" y="357.38" class="v">-2.521</text>
<circle cx="62.16" cy="345.45" r="1.55" fill="#000" fill-opacity="0.72"/>
<text x="81.09" y="357.38" class="v">-0.510</text>
<text x="109.75" y="357.38" class="v">0.630</text>
<text x="138.41" y="357.38" class="v">0.166</text>
<text x="167.07" y="357.38" class="v">0.799</text>
<text x="195.73" y="357.38" class="v">1.593</text>
<circle cx="205.46" cy="345.45" r="1.55" fill="#000" fill-opacity="0.72"/>
<text x="224.39" y="357.38" class="v">0.936</text>
<text x="281.71" y="357.38" class="v">-1.436</text>
<text x="52.43" y="386.03" class="v">-3.457</text>
<circle cx="62.16" cy="374.10" r="1.55" fill="#000" fill-opacity="0.72"/>
<text x="81.09" y="386.03" class="v">-1.446</text>
<text x="109.75" y="386.03" class="v">-0.306</text>
<text x="138.41" y="386.03" class="v">-0.770</text>
<text x="167.07" y="386.03" class="v">-0.137</text>
<text x="195.73" y="386.03" class="v">0.657</text>
<text x="253.05" y="386.03" class="v">-0.936</text>
<text x="281.71" y="386.03" class="v">-2.372</text>
<circle cx="291.44" cy="374.10" r="1.55" fill="#000" fill-opacity="0.72"/>
<text x="52.43" y="414.68" class="v">-4.114</text>
<circle cx="62.16" cy="402.75" r="1.55" fill="#000" fill-opacity="0.72"/>
<text x="81.09" y="414.68" class="v">-2.103</text>
<circle cx="90.82" cy="402.75" r="1.55" fill="#000" fill-opacity="0.72"/>
<text x="109.75" y="414.68" class="v">-0.964</text>
<text x="138.41" y="414.68" class="v">-1.427</text>
<text x="167.07" y="414.68" class="v">-0.794</text>
<text x="224.39" y="414.68" class="v">-0.657</text>
<text x="253.05" y="414.68" class="v">-1.593</text>
<circle cx="262.78" cy="402.75" r="1.55" fill="#000" fill-opacity="0.72"/>
<text x="281.71" y="414.68" class="v">-3.029</text>
<circle cx="291.44" cy="402.75" r="1.55" fill="#000" fill-opacity="0.72"/>
<text x="52.43" y="443.32" class="v">-3.320</text>
<circle cx="62.16" cy="431.40" r="1.55" fill="#000" fill-opacity="0.72"/>
<text x="81.09" y="443.32" class="v">-1.309</text>
<text x="109.75" y="443.32" class="v">-0.169</text>
<text x="138.41" y="443.32" class="v">-0.633</text>
<text x="195.73" y="443.32" class="v">0.794</text>
<text x="224.39" y="443.32" class="v">0.137</text>
<text x="253.05" y="443.32" class="v">-0.799</text>
<text x="281.71" y="443.32" class="v">-2.235</text>
<circle cx="291.44" cy="431.40" r="1.55" fill="#000" fill-opacity="0.72"/>
<text x="52.43" y="471.98" class="v">-2.687</text>
<circle cx="62.16" cy="460.05" r="1.55" fill="#000" fill-opacity="0.72"/>
<text x="81.09" y="471.98" class="v">-0.676</text>
<text x="109.75" y="471.98" class="v">0.463</text>
<text x="167.07" y="471.98" class="v">0.633</text>
<text x="195.73" y="471.98" class="v">1.427</text>
<text x="224.39" y="471.98" class="v">0.770</text>
<text x="253.05" y="471.98" class="v">-0.166</text>
<text x="281.71" y="471.98" class="v">-1.602</text>
<circle cx="291.44" cy="460.05" r="1.55" fill="#000" fill-opacity="0.72"/>
<text x="52.43" y="500.63" class="v">-3.151</text>
<circle cx="62.16" cy="488.70" r="1.55" fill="#000" fill-opacity="0.72"/>
<text x="81.09" y="500.63" class="v">-1.140</text>
<text x="138.41" y="500.63" class="v">-0.463</text>
<text x="167.07" y="500.63" class="v">0.169</text>
<text x="195.73" y="500.63" class="v">0.964</text>
<text x="224.39" y="500.63" class="v">0.306</text>
<text x="253.05" y="500.63" class="v">-0.630</text>
<text x="281.71" y="500.63" class="v">-2.066</text>
<circle cx="291.44" cy="488.70" r="1.55" fill="#000" fill-opacity="0.72"/>
<text x="52.43" y="529.27" class="v">-2.011</text>
<circle cx="62.16" cy="517.35" r="1.55" fill="#000" fill-opacity="0.72"/>
<text x="109.75" y="529.27" class="v">1.140</text>
<text x="138.41" y="529.27" class="v">0.676</text>
<text x="167.07" y="529.27" class="v">1.309</text>
<text x="195.73" y="529.27" class="v">2.103</text>
<circle cx="205.46" cy="517.35" r="1.55" fill="#000" fill-opacity="0.72"/>
<text x="224.39" y="529.27" class="v">1.446</text>
<text x="253.05" y="529.27" class="v">0.510</text>
<text x="281.71" y="529.27" class="v">-0.926</text>
<text x="81.09" y="557.92" class="v">2.011</text>
<circle cx="90.82" cy="546.00" r="1.55" fill="#000" fill-opacity="0.72"/>
<text x="109.75" y="557.92" class="v">3.151</text>
<circle cx="119.48" cy="546.00" r="1.55" fill="#000" fill-opacity="0.72"/>
<text x="138.41" y="557.92" class="v">2.687</text>
<circle cx="148.14" cy="546.00" r="1.55" fill="#000" fill-opacity="0.72"/>
<text x="167.07" y="557.92" class="v">3.320</text>
<circle cx="176.80" cy="546.00" r="1.55" fill="#000" fill-opacity="0.72"/>
<text x="195.73" y="557.92" class="v">4.114</text>
<circle cx="205.46" cy="546.00" r="1.55" fill="#000" fill-opacity="0.72"/>
<text x="224.39" y="557.92" class="v">3.457</text>
<circle cx="234.12" cy="546.00" r="1.55" fill="#000" fill-opacity="0.72"/>
<text x="253.05" y="557.92" class="v">2.521</text>
<circle cx="262.78" cy="546.00" r="1.55" fill="#000" fill-opacity="0.72"/>
<text x="281.71" y="557.92" class="v">1.085</text>
<text x="36.40" y="328.82" class="rl">Aged ≥80</text>
<text x="36.40" y="357.48" class="rl">Aged 70-79</text>
<text x="36.40" y="386.12" class="rl">Aged 60-69</text>
<text x="36.40" y="414.77" class="rl">Aged 50-59</text>
<text x="36.40" y="443.42" class="rl">Aged 40-49</text>
<text x="36.40" y="472.07" class="rl">Aged 30-39</text>
<text x="36.40" y="500.73" class="rl">Aged 20-29</text>
<text x="36.40" y="529.38" class="rl">Aged 10-19</text>
<text x="36.40" y="558.02" class="rl">Aged 0-9</text>
<text x="44.33" y="577.15" class="cl">Aged</text>
<text x="44.33" y="584.75" class="cl">0-9</text>
<text x="72.99" y="577.15" class="cl">Aged</text>
<text x="72.99" y="584.75" class="cl">10-19</text>
<text x="101.65" y="577.15" class="cl">Aged</text>
<text x="101.65" y="584.75" class="cl">20-29</text>
<text x="130.31" y="577.15" class="cl">Aged</text>
<text x="130.31" y="584.75" class="cl">30-39</text>
<text x="158.97" y="577.15" class="cl">Aged</text>
<text x="158.97" y="584.75" class="cl">40-49</text>
<text x="187.63" y="577.15" class="cl">Aged</text>
<text x="187.63" y="584.75" class="cl">50-59</text>
<text x="216.29" y="577.15" class="cl">Aged</text>
<text x="216.29" y="584.75" class="cl">60-69</text>
<text x="244.95" y="577.15" class="cl">Aged</text>
<text x="244.95" y="584.75" class="cl">70-79</text>
<text x="273.61" y="577.15" class="cl">Aged</text>
<text x="273.61" y="584.75" class="cl">≥80</text>
<rect x="304.65" y="311.80" width="8.75" height="257.20" fill="url(#gG)" stroke="#333" stroke-width="1.1"/>
<rect x="305.15" y="314.91" width="1.4" height="0.9" fill="#222"/>
<rect x="311.50" y="314.91" width="1.4" height="0.9" fill="#222"/>
<text x="316.40" y="317.66" class="tk">4</text>
<rect x="305.15" y="377.43" width="1.4" height="0.9" fill="#222"/>
<rect x="311.50" y="377.43" width="1.4" height="0.9" fill="#222"/>
<text x="316.40" y="380.18" class="tk">2</text>
<rect x="305.15" y="439.95" width="1.4" height="0.9" fill="#222"/>
<rect x="311.50" y="439.95" width="1.4" height="0.9" fill="#222"/>
<text x="316.40" y="442.70" class="tk">0</text>
<rect x="305.15" y="502.47" width="1.4" height="0.9" fill="#222"/>
<rect x="311.50" y="502.47" width="1.4" height="0.9" fill="#222"/>
<text x="316.40" y="505.22" class="tk">-2</text>
<rect x="305.15" y="564.99" width="1.4" height="0.9" fill="#222"/>
<rect x="311.50" y="564.99" width="1.4" height="0.9" fill="#222"/>
<text x="316.40" y="567.74" class="tk">-4</text>
</g>
<text x="161.70" y="608.90" class="cap">(G)</text>
<g style="font-size:6.542px">
<rect x="399.95" y="313.00" width="29.36" height="29.34" fill="rgb(209,163,209)"/>
<rect x="428.31" y="313.00" width="29.36" height="29.34" fill="rgb(188,121,188)"/>
<rect x="456.67" y="313.00" width="29.36" height="29.34" fill="rgb(172,89,172)"/>
<rect x="485.03" y="313.00" width="29.36" height="29.34" fill="rgb(180,105,180)"/>
<rect x="513.39" y="313.00" width="29.36" height="29.34" fill="rgb(162,69,162)"/>
<rect x="541.75" y="313.00" width="29.36" height="29.34" fill="rgb(145,35,145)"/>
<rect x="570.11" y="313.00" width="29.36" height="29.34" fill="rgb(154,52,154)"/>
<rect x="598.47" y="313.00" width="29.36" height="29.34" fill="rgb(175,95,175)"/>
<rect x="626.83" y="313.00" width="28.36" height="29.34" fill="#000"/>
<rect x="399.95" y="341.34" width="29.36" height="29.34" fill="rgb(225,196,225)"/>
<rect x="428.31" y="341.34" width="29.36" height="29.34" fill="rgb(205,154,205)"/>
<rect x="456.67" y="341.34" width="29.36" height="29.34" fill="rgb(189,122,189)"/>
<rect x="485.03" y="341.34" width="29.36" height="29.34" fill="rgb(197,138,197)"/>
<rect x="513.39" y="341.34" width="29.36" height="29.34" fill="rgb(179,102,179)"/>
<rect x="541.75" y="341.34" width="29.36" height="29.34" fill="rgb(162,68,162)"/>
<rect x="570.11" y="341.34" width="29.36" height="29.34" fill="rgb(170,85,170)"/>
<rect x="598.47" y="341.34" width="29.36" height="29.34" fill="#000"/>
<rect x="626.83" y="341.34" width="28.36" height="29.34" fill="rgb(208,160,208)"/>
<rect x="399.95" y="369.68" width="29.36" height="29.34" fill="rgb(247,238,247)"/>
<rect x="428.31" y="369.68" width="29.36" height="29.34" fill="rgb(226,197,226)"/>
<rect x="456.67" y="369.68" width="29.36" height="29.34" fill="rgb(210,165,210)"/>
<rect x="485.03" y="369.68" width="29.36" height="29.34" fill="rgb(218,181,218)"/>
<rect x="513.39" y="369.68" width="29.36" height="29.34" fill="rgb(200,144,200)"/>
<rect x="541.75" y="369.68" width="29.36" height="29.34" fill="rgb(183,111,183)"/>
<rect x="570.11" y="369.68" width="29.36" height="29.34" fill="#000"/>
<rect x="598.47" y="369.68" width="29.36" height="29.34" fill="rgb(213,170,213)"/>
<rect x="626.83" y="369.68" width="28.36" height="29.34" fill="rgb(229,203,229)"/>
<rect x="399.95" y="398.02" width="29.36" height="29.34" fill="rgb(255,255,255)"/>
<rect x="428.31" y="398.02" width="29.36" height="29.34" fill="rgb(234,213,234)"/>
<rect x="456.67" y="398.02" width="29.36" height="29.34" fill="rgb(218,181,218)"/>
<rect x="485.03" y="398.02" width="29.36" height="29.34" fill="rgb(227,198,227)"/>
<rect x="513.39" y="398.02" width="29.36" height="29.34" fill="rgb(208,161,208)"/>
<rect x="541.75" y="398.02" width="29.36" height="29.34" fill="#000"/>
<rect x="570.11" y="398.02" width="29.36" height="29.34" fill="rgb(200,144,200)"/>
<rect x="598.47" y="398.02" width="29.36" height="29.34" fill="rgb(221,187,221)"/>
<rect x="626.83" y="398.02" width="28.36" height="29.34" fill="rgb(238,220,238)"/>
<rect x="399.95" y="426.36" width="29.36" height="29.34" fill="rgb(238,221,238)"/>
<rect x="428.31" y="426.36" width="29.36" height="29.34" fill="rgb(217,180,217)"/>
<rect x="456.67" y="426.36" width="29.36" height="29.34" fill="rgb(202,148,202)"/>
<rect x="485.03" y="426.36" width="29.36" height="29.34" fill="rgb(210,164,210)"/>
<rect x="513.39" y="426.36" width="29.36" height="29.34" fill="#000"/>
<rect x="541.75" y="426.36" width="29.36" height="29.34" fill="rgb(175,94,175)"/>
<rect x="570.11" y="426.36" width="29.36" height="29.34" fill="rgb(183,111,183)"/>
<rect x="598.47" y="426.36" width="29.36" height="29.34" fill="rgb(204,153,204)"/>
<rect x="626.83" y="426.36" width="28.36" height="29.34" fill="rgb(221,186,221)"/>
<rect x="399.95" y="454.70" width="29.36" height="29.34" fill="rgb(220,185,220)"/>
<rect x="428.31" y="454.70" width="29.36" height="29.34" fill="rgb(199,143,199)"/>
<rect x="456.67" y="454.70" width="29.36" height="29.34" fill="rgb(183,111,183)"/>
<rect x="485.03" y="454.70" width="29.36" height="29.34" fill="#000"/>
<rect x="513.39" y="454.70" width="29.36" height="29.34" fill="rgb(173,91,173)"/>
<rect x="541.75" y="454.70" width="29.36" height="29.34" fill="rgb(156,57,156)"/>
<rect x="570.11" y="454.70" width="29.36" height="29.34" fill="rgb(165,74,165)"/>
<rect x="598.47" y="454.70" width="29.36" height="29.34" fill="rgb(186,117,186)"/>
<rect x="626.83" y="454.70" width="28.36" height="29.34" fill="rgb(203,150,203)"/>
<rect x="399.95" y="483.04" width="29.36" height="29.34" fill="rgb(228,201,228)"/>
<rect x="428.31" y="483.04" width="29.36" height="29.34" fill="rgb(207,159,207)"/>
<rect x="456.67" y="483.04" width="29.36" height="29.34" fill="#000"/>
<rect x="485.03" y="483.04" width="29.36" height="29.34" fill="rgb(200,144,200)"/>
<rect x="513.39" y="483.04" width="29.36" height="29.34" fill="rgb(181,107,181)"/>
<rect x="541.75" y="483.04" width="29.36" height="29.34" fill="rgb(165,74,165)"/>
<rect x="570.11" y="483.04" width="29.36" height="29.34" fill="rgb(173,90,173)"/>
<rect x="598.47" y="483.04" width="29.36" height="29.34" fill="rgb(194,133,194)"/>
<rect x="626.83" y="483.04" width="28.36" height="29.34" fill="rgb(211,166,211)"/>
<rect x="399.95" y="511.38" width="29.36" height="29.34" fill="rgb(212,169,212)"/>
<rect x="428.31" y="511.38" width="29.36" height="29.34" fill="#000"/>
<rect x="456.67" y="511.38" width="29.36" height="29.34" fill="rgb(176,96,176)"/>
<rect x="485.03" y="511.38" width="29.36" height="29.34" fill="rgb(184,112,184)"/>
<rect x="513.39" y="511.38" width="29.36" height="29.34" fill="rgb(166,75,166)"/>
<rect x="541.75" y="511.38" width="29.36" height="29.34" fill="rgb(149,42,149)"/>
<rect x="570.11" y="511.38" width="29.36" height="29.34" fill="rgb(157,58,157)"/>
<rect x="598.47" y="511.38" width="29.36" height="29.34" fill="rgb(178,101,178)"/>
<rect x="626.83" y="511.38" width="28.36" height="29.34" fill="rgb(195,134,195)"/>
<rect x="399.95" y="539.72" width="29.36" height="28.34" fill="#000"/>
<rect x="428.31" y="539.72" width="29.36" height="28.34" fill="rgb(171,86,171)"/>
<rect x="456.67" y="539.72" width="29.36" height="28.34" fill="rgb(155,54,155)"/>
<rect x="485.03" y="539.72" width="29.36" height="28.34" fill="rgb(163,70,163)"/>
<rect x="513.39" y="539.72" width="29.36" height="28.34" fill="rgb(145,34,145)"/>
<rect x="541.75" y="539.72" width="29.36" height="28.34" fill="rgb(128,0,128)"/>
<rect x="570.11" y="539.72" width="29.36" height="28.34" fill="rgb(136,17,136)"/>
<rect x="598.47" y="539.72" width="29.36" height="28.34" fill="rgb(158,59,158)"/>
<rect x="626.83" y="539.72" width="28.36" height="28.34" fill="rgb(174,92,174)"/>
<rect x="399.95" y="313.00" width="255.24" height="255.06" fill="none" stroke="#000" stroke-width="1.50"/>
<text x="414.13" y="329.77" class="v">-0.184</text>
<text x="442.49" y="329.77" class="v">0.036</text>
<text x="470.85" y="329.77" class="v">0.203</text>
<text x="499.21" y="329.77" class="v">0.116</text>
<text x="527.57" y="329.77" class="v">0.309</text>
<circle cx="537.15" cy="318.20" r="1.55" fill="#000" fill-opacity="0.72"/>
<text x="555.93" y="329.77" class="v">0.485</text>
<circle cx="565.51" cy="318.20" r="1.55" fill="#000" fill-opacity="0.72"/>
<text x="584.29" y="329.77" class="v">0.398</text>
<circle cx="593.87" cy="318.20" r="1.55" fill="#000" fill-opacity="0.72"/>
<text x="612.65" y="329.77" class="v">0.173</text>
<text x="414.13" y="358.11" class="v">-0.357</text>
<circle cx="423.71" cy="346.54" r="1.55" fill="#000" fill-opacity="0.72"/>
<text x="442.49" y="358.11" class="v">-0.137</text>
<text x="470.85" y="358.11" class="v">0.030</text>
<text x="499.21" y="358.11" class="v">-0.057</text>
<text x="527.57" y="358.11" class="v">0.136</text>
<text x="555.93" y="358.11" class="v">0.312</text>
<circle cx="565.51" cy="346.54" r="1.55" fill="#000" fill-opacity="0.72"/>
<text x="584.29" y="358.11" class="v">0.225</text>
<text x="641.01" y="358.11" class="v">-0.173</text>
<text x="414.13" y="386.45" class="v">-0.582</text>
<circle cx="423.71" cy="374.88" r="1.55" fill="#000" fill-opacity="0.72"/>
<text x="442.49" y="386.45" class="v">-0.363</text>
<circle cx="452.07" cy="374.88" r="1.55" fill="#000" fill-opacity="0.72"/>
<text x="470.85" y="386.45" class="v">-0.195</text>
<text x="499.21" y="386.45" class="v">-0.282</text>
<text x="527.57" y="386.45" class="v">-0.089</text>
<text x="555.93" y="386.45" class="v">0.086</text>
<text x="612.65" y="386.45" class="v">-0.225</text>
<text x="641.01" y="386.45" class="v">-0.398</text>
<circle cx="650.59" cy="374.88" r="1.55" fill="#000" fill-opacity="0.72"/>
<text x="414.13" y="414.79" class="v">-0.669</text>
<circle cx="423.71" cy="403.22" r="1.55" fill="#000" fill-opacity="0.72"/>
<text x="442.49" y="414.79" class="v">-0.449</text>
<circle cx="452.07" cy="403.22" r="1.55" fill="#000" fill-opacity="0.72"/>
<text x="470.85" y="414.79" class="v">-0.282</text>
<text x="499.21" y="414.79" class="v">-0.369</text>
<circle cx="508.79" cy="403.22" r="1.55" fill="#000" fill-opacity="0.72"/>
<text x="527.57" y="414.79" class="v">-0.176</text>
<text x="584.29" y="414.79" class="v">-0.086</text>
<text x="612.65" y="414.79" class="v">-0.312</text>
<circle cx="622.23" cy="403.22" r="1.55" fill="#000" fill-opacity="0.72"/>
<text x="641.01" y="414.79" class="v">-0.485</text>
<circle cx="650.59" cy="403.22" r="1.55" fill="#000" fill-opacity="0.72"/>
<text x="414.13" y="443.13" class="v">-0.493</text>
<circle cx="423.71" cy="431.56" r="1.55" fill="#000" fill-opacity="0.72"/>
<text x="442.49" y="443.13" class="v">-0.273</text>
<text x="470.85" y="443.13" class="v">-0.106</text>
<text x="499.21" y="443.13" class="v">-0.193</text>
<text x="555.93" y="443.13" class="v">0.176</text>
<text x="584.29" y="443.13" class="v">0.089</text>
<text x="612.65" y="443.13" class="v">-0.136</text>
<text x="641.01" y="443.13" class="v">-0.309</text>
<circle cx="650.59" cy="431.56" r="1.55" fill="#000" fill-opacity="0.72"/>
<text x="414.13" y="471.47" class="v">-0.300</text>
<circle cx="423.71" cy="459.90" r="1.55" fill="#000" fill-opacity="0.72"/>
<text x="442.49" y="471.47" class="v">-0.080</text>
<text x="470.85" y="471.47" class="v">0.087</text>
<text x="527.57" y="471.47" class="v">0.193</text>
<text x="555.93" y="471.47" class="v">0.369</text>
<circle cx="565.51" cy="459.90" r="1.55" fill="#000" fill-opacity="0.72"/>
<text x="584.29" y="471.47" class="v">0.282</text>
<text x="612.65" y="471.47" class="v">0.057</text>
<text x="641.01" y="471.47" class="v">-0.116</text>
<text x="414.13" y="499.81" class="v">-0.387</text>
<circle cx="423.71" cy="488.24" r="1.55" fill="#000" fill-opacity="0.72"/>
<text x="442.49" y="499.81" class="v">-0.167</text>
<text x="499.21" y="499.81" class="v">-0.087</text>
<text x="527.57" y="499.81" class="v">0.106</text>
<text x="555.93" y="499.81" class="v">0.282</text>
<text x="584.29" y="499.81" class="v">0.195</text>
<text x="612.65" y="499.81" class="v">-0.030</text>
<text x="641.01" y="499.81" class="v">-0.203</text>
<text x="414.13" y="528.15" class="v">-0.219</text>
<text x="470.85" y="528.15" class="v">0.167</text>
<text x="499.21" y="528.15" class="v">0.080</text>
<text x="527.57" y="528.15" class="v">0.273</text>
<text x="555.93" y="528.15" class="v">0.449</text>
<circle cx="565.51" cy="516.58" r="1.55" fill="#000" fill-opacity="0.72"/>
<text x="584.29" y="528.15" class="v">0.363</text>
<circle cx="593.87" cy="516.58" r="1.55" fill="#000" fill-opacity="0.72"/>
<text x="612.65" y="528.15" class="v">0.137</text>
<text x="641.01" y="528.15" class="v">-0.036</text>
<text x="442.49" y="556.49" class="v">0.219</text>
<text x="470.85" y="556.49" class="v">0.387</text>
<circle cx="480.43" cy="544.92" r="1.55" fill="#000" fill-opacity="0.72"/>
<text x="499.21" y="556.49" class="v">0.300</text>
<circle cx="508.79" cy="544.92" r="1.55" fill="#000" fill-opacity="0.72"/>
<text x="527.57" y="556.49" class="v">0.493</text>
<circle cx="537.15" cy="544.92" r="1.55" fill="#000" fill-opacity="0.72"/>
<text x="555.93" y="556.49" class="v">0.669</text>
<circle cx="565.51" cy="544.92" r="1.55" fill="#000" fill-opacity="0.72"/>
<text x="584.29" y="556.49" class="v">0.582</text>
<circle cx="593.87" cy="544.92" r="1.55" fill="#000" fill-opacity="0.72"/>
<text x="612.65" y="556.49" class="v">0.357</text>
<circle cx="622.23" cy="544.92" r="1.55" fill="#000" fill-opacity="0.72"/>
<text x="641.01" y="556.49" class="v">0.184</text>
<text x="398.25" y="329.87" class="rl">Aged ≥80</text>
<text x="398.25" y="358.21" class="rl">Aged 70-79</text>
<text x="398.25" y="386.55" class="rl">Aged 60-69</text>
<text x="398.25" y="414.89" class="rl">Aged 50-59</text>
<text x="398.25" y="443.23" class="rl">Aged 40-49</text>
<text x="398.25" y="471.57" class="rl">Aged 30-39</text>
<text x="398.25" y="499.91" class="rl">Aged 20-29</text>
<text x="398.25" y="528.25" class="rl">Aged 10-19</text>
<text x="398.25" y="556.59" class="rl">Aged 0-9</text>
<text x="406.03" y="575.76" class="cl">Aged</text>
<text x="406.03" y="583.36" class="cl">0-9</text>
<text x="434.39" y="575.76" class="cl">Aged</text>
<text x="434.39" y="583.36" class="cl">10-19</text>
<text x="462.75" y="575.76" class="cl">Aged</text>
<text x="462.75" y="583.36" class="cl">20-29</text>
<text x="491.11" y="575.76" class="cl">Aged</text>
<text x="491.11" y="583.36" class="cl">30-39</text>
<text x="519.47" y="575.76" class="cl">Aged</text>
<text x="519.47" y="583.36" class="cl">40-49</text>
<text x="547.83" y="575.76" class="cl">Aged</text>
<text x="547.83" y="583.36" class="cl">50-59</text>
<text x="576.19" y="575.76" class="cl">Aged</text>
<text x="576.19" y="583.36" class="cl">60-69</text>
<text x="604.55" y="575.76" class="cl">Aged</text>
<text x="604.55" y="583.36" class="cl">70-79</text>
<text x="632.91" y="575.76" class="cl">Aged</text>
<text x="632.91" y="583.36" class="cl">≥80</text>
<rect x="663.35" y="313.40" width="8.85" height="254.45" fill="url(#gH)" stroke="#333" stroke-width="1.1"/>
<rect x="663.85" y="345.09" width="1.4" height="0.9" fill="#222"/>
<rect x="670.30" y="345.09" width="1.4" height="0.9" fill="#222"/>
<text x="675.20" y="348.24" class="tk">0.5</text>
<rect x="663.85" y="440.18" width="1.4" height="0.9" fill="#222"/>
<rect x="670.30" y="440.18" width="1.4" height="0.9" fill="#222"/>
<text x="675.20" y="443.32" class="tk">0</text>
<rect x="663.85" y="535.26" width="1.4" height="0.9" fill="#222"/>
<rect x="670.30" y="535.26" width="1.4" height="0.9" fill="#222"/>
<text x="675.20" y="538.41" class="tk">-0.5</text>
</g>
<text x="524.00" y="607.70" class="cap">(H)</text>
</svg>
</body></html>
